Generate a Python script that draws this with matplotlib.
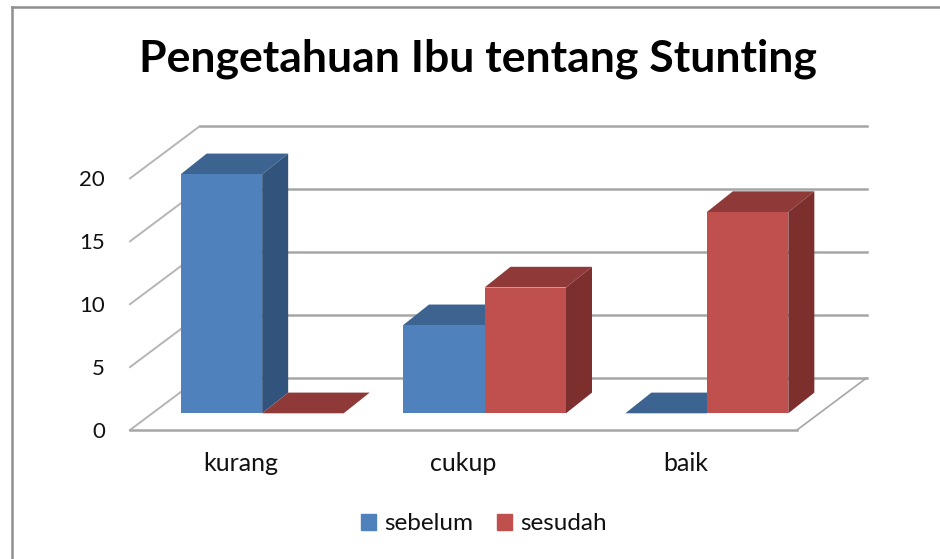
import matplotlib
matplotlib.use("Agg")
import matplotlib.pyplot as plt
from matplotlib.lines import Line2D
from matplotlib.patches import Patch, Polygon
import numpy as np

categories = ["kurang", "cukup", "baik"]
sebelum = [19, 7, 0]
sesudah = [0, 10, 16]
y_ticks = [0, 5, 10, 15, 20]

plt.rcParams["font.family"] = ["Lato", "DejaVu Sans"]

W, H = 940, 559
fig = plt.figure(figsize=(W / 100, H / 100), dpi=100)
# plot area = front edge of the floor, pixel positions
ax = fig.add_axes([130 / W, 1 - 430 / H, 667 / W, 251.6 / H])
ax.set_xlim(0, 3)
ax.set_ylim(0, 20)

# fake 3d: depth offsets in data units
px_x = 3 / 667
px_y = 20 / 251.6
wall_dx, wall_dy = 69.5 * px_x, 52 * px_y
gap_dx, gap_dy = 21 * px_x, 16.7 * px_y
bar_dx, bar_dy = 26 * px_x, 20.7 * px_y
bar_w = 81.5 * px_x

grid_c = "#a6a6a6"
for v in y_ticks:
    ax.plot([wall_dx, 3 + wall_dx], [v + wall_dy] * 2, color=grid_c, lw=1.8, zorder=1, clip_on=False)
    ax.plot([0, wall_dx], [v, v + wall_dy], color="#b5b5b5", lw=1.4, zorder=1, clip_on=False)
ax.plot([0, 3], [0, 0], color=grid_c, lw=1.8, zorder=1, clip_on=False)
ax.plot([3, 3 + wall_dx], [0, wall_dy], color=grid_c, lw=1.2, zorder=1, clip_on=False)

series = [
    (sebelum, -1, "#4f81bd", "#3d6491", "#32547c"),
    (sesudah, 0, "#c0504d", "#8f3a38", "#7d2f2d"),
]
x = np.arange(len(categories)) + 0.5 + gap_dx
z = 3
for values, side, front, top, right in series:
    bars = ax.bar(x + side * bar_w, values, bar_w, bottom=gap_dy, align="edge",
                  color=front, zorder=z + 1, clip_on=False)
    for b in bars:
        x0, x1 = b.get_x(), b.get_x() + b.get_width()
        y0, y1 = b.get_y(), b.get_y() + b.get_height()
        ax.add_patch(Polygon([(x0, y1), (x1, y1), (x1 + bar_dx, y1 + bar_dy), (x0 + bar_dx, y1 + bar_dy)],
                             color=top, lw=0, zorder=z, clip_on=False))
        ax.add_patch(Polygon([(x1, y0), (x1 + bar_dx, y0 + bar_dy), (x1 + bar_dx, y1 + bar_dy), (x1, y1)],
                             color=right, lw=0, zorder=z, clip_on=False))
    z += 2

ax.set_xticks(np.arange(len(categories)) + 0.5, categories)
ax.set_yticks(y_ticks)
ax.tick_params(axis="x", length=0, pad=16, labelsize=18, labelcolor="#111111")
ax.tick_params(axis="y", length=0, pad=18, labelsize=16, labelcolor="#111111")
ax.get_xticklabels()[1].set_x(1.5)
for s in ax.spines.values():
    s.set_visible(False)
ax.patch.set_alpha(0)

fig.text(478 / W, 1 - 59 / H, "Pengetahuan Ibu tentang Stunting", ha="center", va="center",
         fontsize=32, fontweight="bold", color="black")

fig.legend(handles=[Patch(color="#4f81bd", label="sebelum"), Patch(color="#c0504d", label="sesudah")],
           loc="center", bbox_to_anchor=(484 / W, 1 - 524 / H), ncol=2, frameon=False,
           fontsize=17.5, handlelength=0.6, handleheight=0.6, handletextpad=0.35, columnspacing=1.0,
           labelcolor="#111111")

# chart border, cut off by the screenshot on the right and bottom
frame_c = "#8f8f8f"
fig.add_artist(Line2D([11.5 / W, 11.5 / W], [0, 1 - 7 / H], color=frame_c, lw=1.8))
fig.add_artist(Line2D([11.5 / W, 1], [1 - 7 / H, 1 - 7 / H], color=frame_c, lw=1.8))

fig.savefig("out.png", dpi=100)
